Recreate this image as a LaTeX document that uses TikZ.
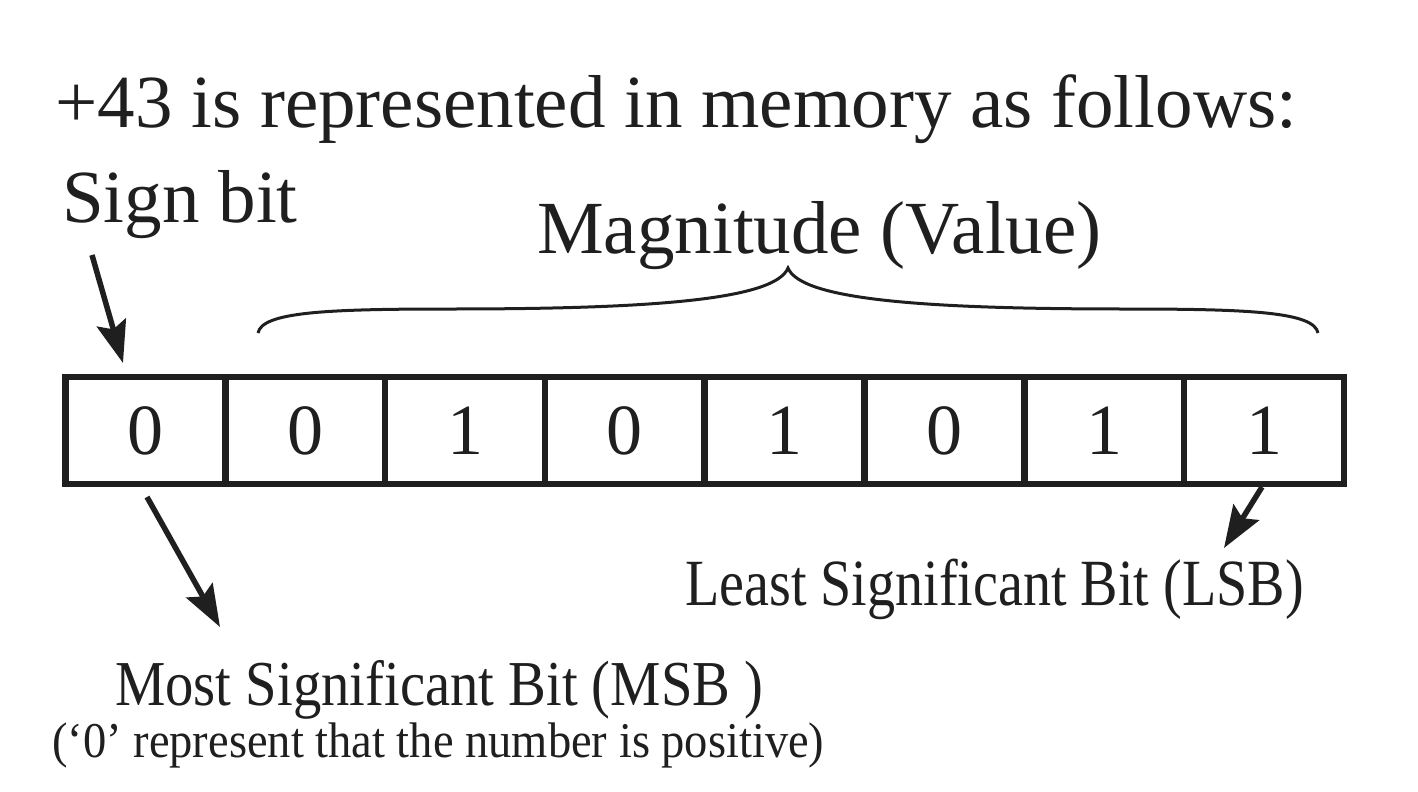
\documentclass[tikz,border=0pt]{standalone}
\usepackage{fontspec}
\setmainfont{Liberation Serif}
\usetikzlibrary{arrows.meta}
\tikzset{
  cell/.style={draw, line width=6.5bp, minimum width=159.8bp, minimum height=107bp, inner sep=0pt, font=\fontsize{72bp}{80bp}\selectfont},
  lbl/.style={inner sep=0pt, anchor=base west},
  arr/.style={line width=5.5bp, -{Stealth[length=42bp, width=30bp, inset=7bp]}},
  brace/.style={line width=3bp},
}
\begin{document}
\begin{tikzpicture}[x=1bp, y=-1bp, color={black!88}]
\useasboundingbox (0,0) rectangle (1418,791);
\node[lbl, font=\fontsize{75bp}{90bp}\selectfont] (title) at (55,127) {+43 is represented in memory as follows:};
\node[lbl, font=\fontsize{75bp}{90bp}\selectfont] (sign) at (62,222) {Sign bit};
\node[lbl, font=\fontsize{75bp}{90bp}\selectfont] (mag) at (537,253) {Magnitude (Value)};
\foreach \i/\d in {0/0,1/0,2/1,3/0,4/1,5/0,6/1,7/1}{
  \node[cell] (c\i) at ({65.5+159.8*(\i+0.5)},430.5) {\d};
}
\draw[brace] (258,333) .. controls (262,312) and (326,309) .. (450,309)
  .. controls (650,309) and (775,300) .. (788,268)
  .. controls (801,300) and (926,309) .. (1126,309)
  .. controls (1250,309) and (1314,312) .. (1318,333);
\coordinate (signtail) at (92,255);
\coordinate (signtip) at (123,363);
\draw[arr] (signtail) -- (signtip);
\node[lbl, font=\fontsize{66bp}{80bp}\selectfont\addfontfeatures{FakeStretch=0.85}] (lsb) at (685,605) {Least Significant Bit (LSB)};
\coordinate (lsbtail) at (1262,487);
\coordinate (lsbtip) at (1224,548);
\draw[arr] (lsbtail) -- (lsbtip);
\coordinate (msbtail) at (147,497);
\coordinate (msbtip) at (220,627);
\draw[arr] (msbtail) -- (msbtip);
\node[lbl, font=\fontsize{64bp}{80bp}\selectfont\addfontfeatures{FakeStretch=0.885}] (msb) at (115,705) {Most Significant Bit (MSB )};
\node[lbl, font=\fontsize{50bp}{60bp}\selectfont\addfontfeatures{FakeStretch=0.93}] (note) at (52,757) {(‘0’ represent that the number is positive)};
\end{tikzpicture}
\end{document}
